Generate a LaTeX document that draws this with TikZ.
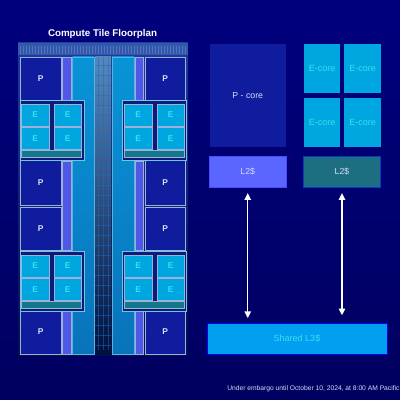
\documentclass[tikz,border=0pt]{standalone}
\usepackage{fontspec}
\setmainfont{Liberation Sans}
\usetikzlibrary{arrows.meta}

\definecolor{bgtop}{HTML}{00007E}
\definecolor{bgbot}{HTML}{000060}
\definecolor{pcol}{HTML}{101C9E}
\definecolor{ecol}{HTML}{00A6E0}
\definecolor{stripcol}{HTML}{5058E8}
\definecolor{columncol}{HTML}{0A80D0}
\definecolor{edge}{HTML}{9DB0D8}
\definecolor{ecyan}{HTML}{38E0F0}
\definecolor{ptext}{HTML}{D8DCF8}
\definecolor{dieup}{HTML}{1C3CA0}
\definecolor{diedown}{HTML}{001050}
\definecolor{bandcol}{HTML}{3258AC}
\definecolor{barcol}{HTML}{14788C}
\definecolor{midup}{HTML}{5688BC}
\definecolor{midmid}{HTML}{1A4CA0}
\definecolor{middown}{HTML}{00103C}
\definecolor{clustercol}{HTML}{0C1C78}
\definecolor{ltwopcol}{HTML}{5A66FF}
\definecolor{ltwoecol}{HTML}{1E6E82}
\definecolor{lthreecol}{HTML}{009FF0}

\tikzset{
  size/.style 2 args={minimum width=#1*0.025cm,minimum height=#2*0.025cm,inner sep=0pt,outer sep=0pt},
  pbox/.style={fill=pcol,draw=edge,line width=0.5pt,text=ptext,font=\fontsize{6}{7}\selectfont\bfseries},
  ebox/.style={fill=ecol,draw=edge,line width=0.5pt,text=ecyan,font=\fontsize{6}{7}\selectfont\bfseries},
  bigbox/.style={text=ptext,font=\fontsize{6.2}{7}\selectfont},
  cyanbox/.style={text=ecyan,font=\fontsize{6.4}{7}\selectfont},
  stripbox/.style={fill=stripcol,draw=edge,line width=0.5pt},
  barbox/.style={fill=barcol,draw=edge,line width=0.5pt},
  linkarrow/.style={{Triangle[width=4.6pt,length=4.8pt]}-{Triangle[width=4.6pt,length=4.8pt]},white,line width=1pt}
}

\begin{document}
\begin{tikzpicture}[x=0.025cm,y=-0.025cm]

    \useasboundingbox (0,0) rectangle (400,400);
    % background
    \fill [top color=bgtop,bottom color=bgbot] (0,0) rectangle (400,400);

    \node [text=white,font=\fontsize{6.95}{9}\selectfont\bfseries] (title) at (102.5,34) {Compute Tile Floorplan};

    % die, with the band along its top
    \fill [top color=dieup,bottom color=diedown] (18,43) rectangle (188,355);
    \fill [bandcol] (18,43) rectangle (188,55);
    \foreach \x in {20,23,...,186}
      \draw [edge,line width=0.2pt,opacity=.3] (\x,46) -- (\x,54);

    % middle of the die, fading out downwards
    \shade [top color=midup,middle color=midmid,bottom color=middown] (95,57) rectangle (111,354);
    \foreach \x in {98,103,108}
      \draw [cyan!50!blue,line width=0.25pt,opacity=.5] (\x,57) -- (\x,350);
    \foreach \y in {65,75,...,345}
      \draw [cyan!50!blue,line width=0.25pt,opacity=.5] (95,\y) -- (111,\y);

    % long blue columns
    \foreach \x/\w in {72.5/21.5,112/22}
      \draw [top color=columncol!85!cyan,bottom color=columncol!90!black,draw=cyan!50!edge,line width=0.5pt] (\x,57) rectangle +(\w,297);

    % P cores
    \foreach \name/\cx/\cy/\h in {pa/40.75/78.5/43, pb/165.25/78.5/43, pc/40.75/183/45, pd/165.25/183/45,
                                  pe/40.75/228.5/43, pf/165.25/228.5/43, pg/40.75/332/44, ph/165.25/332/44}
      \node [pbox,size={40.5}{\h}] (\name) at (\cx,\cy) {P};

    % thin strips next to them
    \foreach \x in {66.75,139.5}
      \foreach \cy/\h in {78.5/43,205.5/89,332.5/43}
        \draw [stripbox] (\x-4.25,\cy-\h/2) rectangle (\x+4.25,\cy+\h/2);

    % E clusters
    \foreach \top in {100,251} {
      \draw [fill=clustercol,draw=edge!70!cyan,line width=0.6pt] (20,\top) rectangle (84,\top+60);
      \draw [fill=clustercol,draw=edge!70!cyan,line width=0.6pt] (122,\top) rectangle (186,\top+60);
      \draw [barbox] (21.5,\top+50) rectangle (81,\top+57);
      \draw [barbox] (124,\top+50) rectangle (184.5,\top+57);
      \foreach \cx in {35.25,67.75,138.25,170.75}
        \foreach \dy in {15,38.5}
          \node [ebox,size={27.5}{22}] (e\top-\cx-\dy) at (\cx,\top+\dy) {E};
    }

    % right side, P core
    \node [size={76.5}{103},fill=pcol,bigbox] (pcore) at (247.75,95.5) {P - core};
    \node [size={76.5}{31.5},fill=ltwopcol,draw=blue!70,line width=0.4pt,bigbox] (ltwop) at (247.75,171.75) {L2\$};

    % right side, E cores
    \foreach \name/\cx/\cy in {ea/322/68.5, eb/362.5/68.5, ec/322/122.5, ed/362.5/122.5}
      \node [size={36.5}{49},fill=ecol,cyanbox] (\name) at (\cx,\cy) {E-core};
    \node [size={77}{31.5},fill=ltwoecol,draw=blue!50!teal,line width=0.4pt,bigbox] (ltwoe) at (342,171.75) {L2\$};

    \node [size={180}{31},fill=lthreecol,draw=blue,line width=0.4pt,cyanbox] (lthree) at (297,338.5) {Shared L3\$};

    % links to the shared cache
    \draw [linkarrow,shorten <=4pt,shorten >=3.5pt] (ltwop.south) -- (ltwop.south |- lthree.north);
    \draw [linkarrow,shorten <=4pt,shorten >=5.5pt] (ltwoe.south) -- (ltwoe.south |- lthree.north);

    \node [anchor=west,inner sep=0pt,text=ptext,font=\fontsize{4.77}{6}\selectfont] (embargo) at (227,389) {Under embargo until October 10, 2024, at 8:00 AM Pacific};

\end{tikzpicture}
\end{document}
